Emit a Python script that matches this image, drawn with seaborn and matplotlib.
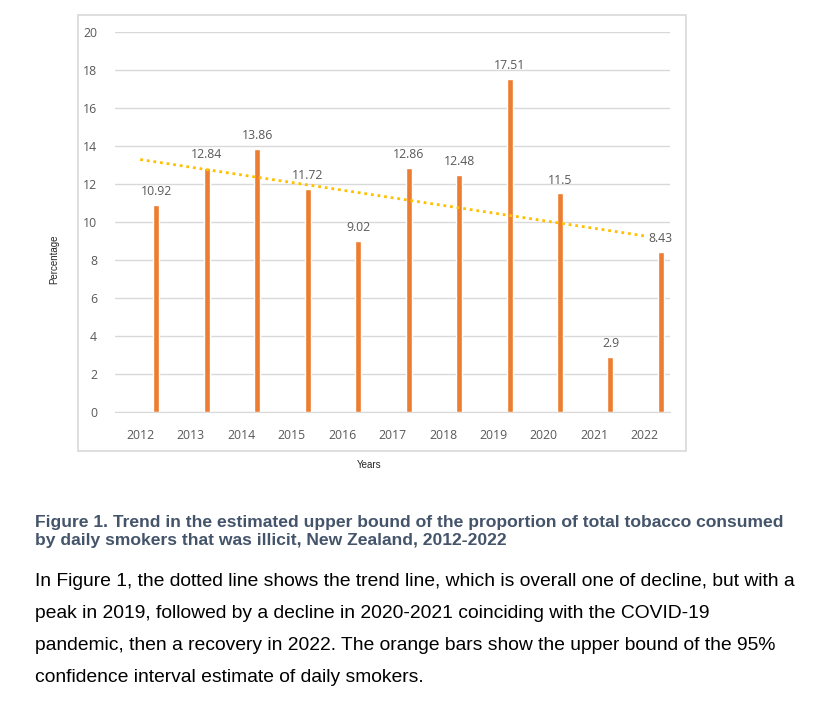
import pandas as pd
import matplotlib.pyplot as plt
import numpy as np
import seaborn as sns
from matplotlib.patches import Rectangle

# data
years = [2012, 2013, 2014, 2015, 2016, 2017, 2018, 2019, 2020, 2021, 2022]
upper_bound = [10.92, 12.84, 13.86, 11.72, 9.02, 12.86, 12.48, 17.51, 11.5, 2.9, 8.43]
value_labels = ["10.92", "12.84", "13.86", "11.72", "9.02", "12.86", "12.48", "17.51", "11.5", "2.9", "8.43"]

caption = ("Figure 1. Trend in the estimated upper bound of the proportion of total tobacco consumed\n"
           "by daily smokers that was illicit, New Zealand, 2012-2022")
paragraph = ["In Figure 1, the dotted line shows the trend line, which is overall one of decline, but with a",
             "peak in 2019, followed by a decline in 2020-2021 coinciding with the COVID-19",
             "pandemic, then a recovery in 2022. The orange bars show the upper bound of the 95%",
             "confidence interval estimate of daily smokers."]

sns.set_style("white")
plt.rcParams['font.family'] = ['Open Sans', 'DejaVu Sans']

df = pd.DataFrame({'year': years, 'pct': upper_bound})
df['bar_x'] = df['year'] + 0.32

fig = plt.figure(figsize=(8.19, 7.02), dpi=100)
ax = fig.add_axes([115/819, 1 - 412/702, 555/819, 380/702])

# chart border
fig.patches.append(Rectangle((78/819, 1 - 451/702), 608/819, 436/702, transform=fig.transFigure,
                             fill=False, edgecolor='#d9d9d9', lw=1.2, zorder=0))

sns.barplot(data=df, x='bar_x', y='pct', native_scale=True, width=0.12,
            color='#ed7d31', saturation=1, ax=ax, zorder=3)
ax.bar_label(ax.containers[0], labels=value_labels, padding=5, fontsize=8.8, color='#595959')

# linear trend line through the category centres
sns.regplot(data=df, x='year', y='pct', scatter=False, ci=None, ax=ax,
            line_kws=dict(color='#ffc000', ls=(0, (1, 1.4)), lw=2, zorder=4))

ax.set_xlim(2011.5, 2022.5)
ax.set_ylim(0, 20)
ax.set_xticks(years)
ax.set_xticklabels([str(y) for y in years])
ax.set_yticks(range(0, 21, 2))
ax.yaxis.grid(True, color='#d9d9d9', lw=1)
ax.set_axisbelow(True)
sns.despine(ax=ax, left=True, top=True, right=True)
ax.spines['bottom'].set_color('#d9d9d9')
ax.tick_params(axis='both', length=0, labelsize=8.8, labelcolor='#595959')
ax.tick_params(axis='x', pad=12)
ax.tick_params(axis='y', pad=13)
ax.set_xlabel('')
ax.set_ylabel('')

fig.text(54/819, 1 - 259/702, 'Percentage', rotation=90, ha='center', va='center', fontsize=7,
         family=['Liberation Sans', 'DejaVu Sans'])
fig.text(369/819, 1 - 465/702, 'Years', ha='center', va='center', fontsize=7,
         family=['Liberation Sans', 'DejaVu Sans'])

fig.text(35/819, 1 - 531.5/702, caption, ha='left', va='center', fontsize=12.6, fontweight='bold',
         color='#44546a', linespacing=1.28, family=['Liberation Sans Narrow', 'Liberation Sans', 'DejaVu Sans'])
for i, line in enumerate(paragraph):
    fig.text(35/819, 1 - (581 + 32.3 * i)/702, line, ha='left', va='center', fontsize=13.9,
             color='black', family=['Liberation Sans Narrow', 'Liberation Sans', 'DejaVu Sans'])

plt.savefig('out.png', dpi=100)
